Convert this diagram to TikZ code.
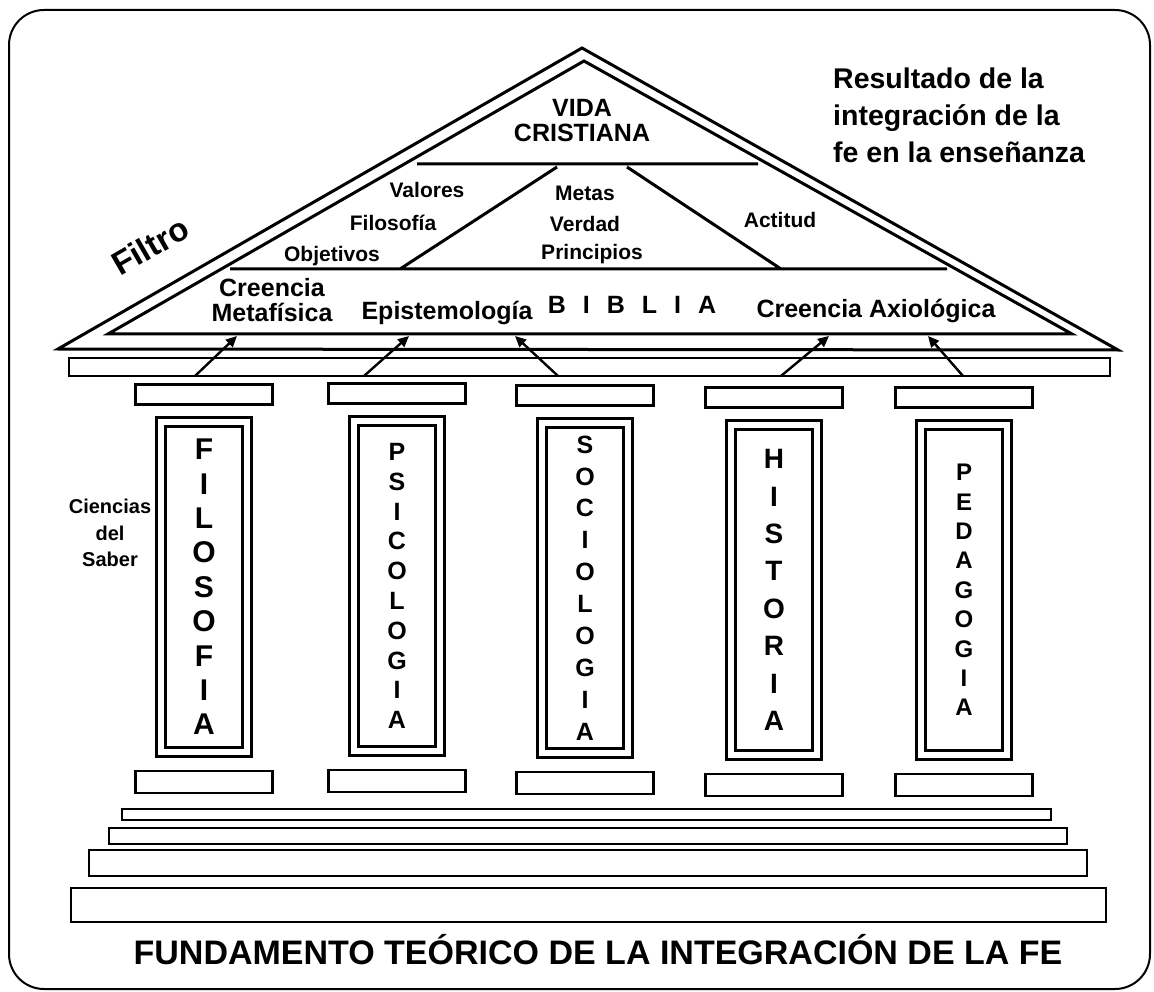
\documentclass[tikz,border=0pt]{standalone}
\usepackage{fontspec}
\setmainfont{Liberation Sans}
\usetikzlibrary{positioning}
\usetikzlibrary{arrows.meta}

\begin{document}
\begin{tikzpicture}
      [x=1pt,y=-1pt,
       slab/.style={draw, line width=2.6pt, inner sep=0pt, minimum width=137pt},
       pillar/.style={draw, double, line width=3pt, double distance=6pt, inner sep=0pt,
                      minimum width=86pt, minimum height=330pt, align=center},
       lbl/.style={font=\bfseries\fontsize{21}{25}\selectfont, inner sep=0pt, align=center},
       big/.style={font=\bfseries\fontsize{25}{25}\selectfont, inner sep=0pt, align=center},
       lift/.style={line width=2.4pt, -{Triangle[length=11pt,width=10pt]}}]
    \useasboundingbox (0,0) rectangle (1154,992);
    \draw[line width=2pt, rounded corners=35pt] (9,10) rectangle (1150,989);

    % roof
    \draw[line width=3pt] (58,349) -- (582,48) -- (1118,350) -- cycle;
    \draw[line width=3pt] (108,334) -- (584,61) -- (1072,334) -- cycle;
    \draw[line width=3pt] (417,164) -- (758,164) (230,269) -- (947,269)
                          (557,167) -- (400,269) (627,167) -- (781,269);
    \draw[slab] (69,358) rectangle (1110,376);

    \node[big] (vida) at (582,121) {VIDA\\CRISTIANA};
    \node[lbl] (valores) at (427,190) {Valores};
    \node[lbl] (filosofia) at (393,223) {Filosofía};
    \node[lbl] (objetivos) at (332,256) {Objetivos};
    \node[lbl] (metas) at (585,193) {Metas};
    \node[lbl] (verdad) at (585,224) {Verdad};
    \node[lbl] (principios) at (592,254) {Principios};
    \node[lbl] (actitud) at (780,220) {Actitud};
    \node[big] (metafisica) at (272,300) {Creencia\\Metafísica};
    \node[big] (episte) at (447,313) {Epistemología};
    \node[big] (biblia) at (632,305)
      {B\hspace{17pt}I\hspace{17pt}B\hspace{17pt}L\hspace{17pt}I\hspace{17pt}A};
    \node[big] (axiologica) at (876,311) {Creencia Axiológica};
    \node[lbl, font=\bfseries\fontsize{33}{33}\selectfont, rotate=30] (filtro) at (150,246) {Filtro};
    \node[lbl, font=\bfseries\fontsize{28.5}{37}\selectfont, align=left, anchor=west]
      (resultado) at (833,115) {Resultado de la\\integración de la\\fe en la enseñanza};

    % columns
    \node[pillar, font=\bfseries\fontsize{30}{34.4}\selectfont] (col1) at (204,587)
      {F\\I\\L\\O\\S\\O\\F\\I\\A};
    \node[pillar, font=\bfseries\fontsize{25}{29.8}\selectfont] (col2) at (397,586)
      {P\\S\\I\\C\\O\\L\\O\\G\\I\\A};
    \node[pillar, font=\bfseries\fontsize{25}{31.9}\selectfont] (col3) at (585,588)
      {S\\O\\C\\I\\O\\L\\O\\G\\I\\A};
    \node[pillar, font=\bfseries\fontsize{28}{37.4}\selectfont] (col4) at (774,590)
      {H\\I\\S\\T\\O\\R\\I\\A};
    \node[pillar, font=\bfseries\fontsize{24}{29.4}\selectfont] (col5) at (964,590)
      {P\\E\\D\\A\\G\\O\\G\\I\\A};

    \node[slab, minimum height=20pt] (cap1) [above=15pt of col1] {};
    \node[slab, minimum height=20pt] (cap2) [above=15pt of col2] {};
    \node[slab, minimum height=20pt] (cap3) [above=15pt of col3] {};
    \node[slab, minimum height=20pt] (cap4) [above=15pt of col4] {};
    \node[slab, minimum height=20pt] (cap5) [above=15pt of col5] {};
    \node[slab, minimum height=22pt] (base1) [below=16pt of col1] {};
    \node[slab, minimum height=22pt] (base2) [below=16pt of col2] {};
    \node[slab, minimum height=22pt] (base3) [below=16pt of col3] {};
    \node[slab, minimum height=22pt] (base4) [below=16pt of col4] {};
    \node[slab, minimum height=22pt] (base5) [below=16pt of col5] {};

    \node[lbl, font=\bfseries\fontsize{20}{26.5}\selectfont] (ciencias) at (110,533)
      {Ciencias\\del\\Saber};

    % steps
    \draw[slab] (122,809) rectangle (1051,820);
    \draw[slab] (109,828) rectangle (1067,844);
    \draw[slab] (89,850) rectangle (1087,876);
    \draw[slab] (71,888) rectangle (1106,922);

    \node[lbl, font=\bfseries\fontsize{34}{34}\selectfont] (titulo) at (598,950)
      {FUNDAMENTO TEÓRICO DE LA INTEGRACIÓN DE LA FE};

    \coordinate (f1) at (195,376); \coordinate (r1) at (237,336);
    \coordinate (f2) at (364,376); \coordinate (r2) at (409,336);
    \coordinate (f3) at (558,376); \coordinate (r3) at (515,336);
    \coordinate (f4) at (781,376); \coordinate (r4) at (829,336);
    \coordinate (f5) at (963,376); \coordinate (r5) at (928,336);
    \path [lift] (f1) edge (r1)
                 (f2) edge (r2)
                 (f3) edge (r3)
                 (f4) edge (r4)
                 (f5) edge (r5);
\end{tikzpicture}
\end{document}
